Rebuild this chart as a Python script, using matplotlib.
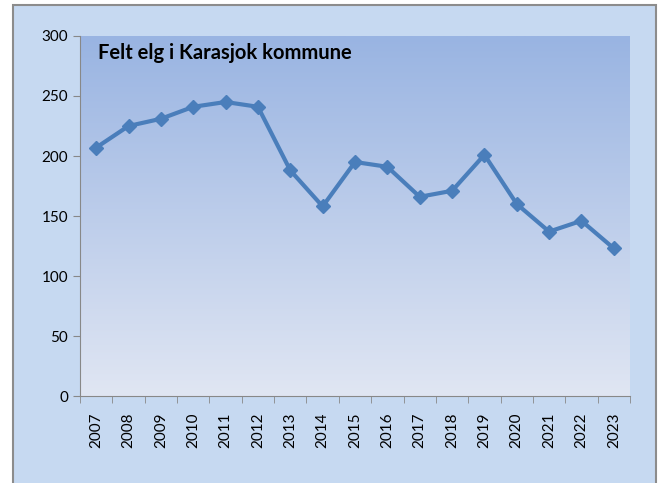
import numpy as np
import matplotlib.pyplot as plt
from matplotlib.patches import Rectangle
from matplotlib.colors import LinearSegmentedColormap

years = [str(y) for y in range(2007, 2024)]
felt = [207, 225, 231, 241, 245, 241, 188, 158, 195, 191, 166, 171, 201, 160, 137, 146, 123]

plt.rcParams['font.family'] = ['Lato', 'DejaVu Sans']

fig = plt.figure(figsize=(6.59, 4.83), dpi=100)
fig.patch.set_facecolor('white')

# outer chart frame
frame = Rectangle((13 / 659, -0.1), (656 - 13) / 659, 1.1 - 5 / 483,
                  transform=fig.transFigure, facecolor='#C6D9F1',
                  edgecolor='#8C8C8C', linewidth=1.5, zorder=-5)
fig.patches.append(frame)

ax = fig.add_axes([80 / 659, 1 - 396 / 483, (630 - 80) / 659, (396 - 36) / 483])
ax.set_zorder(2)
ax.set_facecolor('none')

# gradient for plot area
cmap = LinearSegmentedColormap.from_list('bg', ['#E0E6F3', '#99B4E2'])
grad = np.linspace(0, 1, 256).reshape(-1, 1)
x = np.arange(len(years))
ax.imshow(grad, aspect='auto', cmap=cmap, origin='lower',
          extent=[-0.5, len(years) - 0.5, 0, 300], zorder=0)

ax.plot(x, felt, color='#4A7EBB', linewidth=3, marker='D', markersize=7,
        zorder=3)

ax.set_xlim(-0.5, len(years) - 0.5)
ax.set_ylim(0, 300)
ax.set_yticks(range(0, 301, 50))
ax.set_xticks(x)
ax.set_xticklabels(years, rotation=90, fontsize=11)
ax.set_xticks(np.arange(-0.5, len(years), 1), minor=True)
ax.tick_params(axis='x', which='major', length=0, pad=12)
ax.tick_params(axis='x', which='minor', length=5, color='#888888')
ax.tick_params(axis='y', length=5, color='#888888', labelsize=11)

for side in ['top', 'right']:
    ax.spines[side].set_visible(False)
for side in ['left', 'bottom']:
    ax.spines[side].set_color('#888888')

ax.text(0.033, 0.98, 'Felt elg i Karasjok kommune', transform=ax.transAxes,
        fontsize=14.5, fontweight='bold', va='top', ha='left')

fig.savefig('out.png', dpi=100)
